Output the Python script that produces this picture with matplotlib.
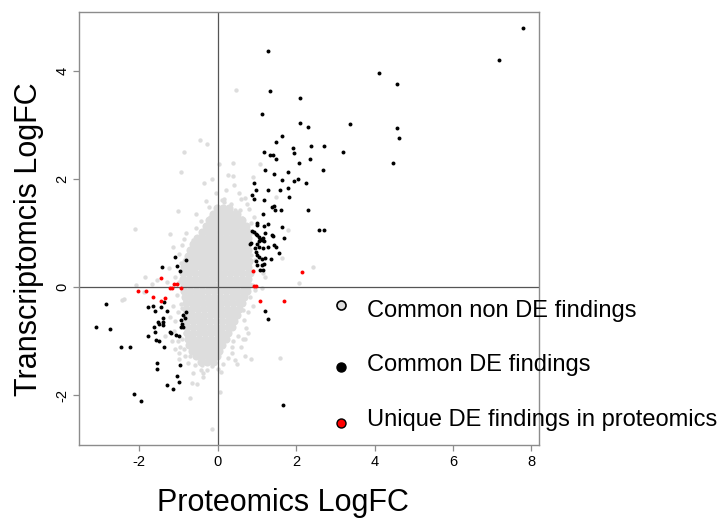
import matplotlib
matplotlib.use('Agg')
import matplotlib.pyplot as plt
from matplotlib.lines import Line2D

plt.rcParams['font.family'] = ['Liberation Sans', 'DejaVu Sans']
plt.rcParams['axes.unicode_minus'] = False

# ---- datos ----
# nube densa de no DE (filas: y, lista de x)
gray_core_rows = [
    (1.47, [-0.02, 0.13, 0.28]),
    (1.36, [-0.12, 0.04, 0.19, 0.34, 0.48]),
    (1.25, [-0.22, -0.07, 0.08, 0.23, 0.38, 0.53, 0.63]),
    (1.14, [-0.30, -0.15, 0.01, 0.16, 0.31, 0.46, 0.61, 0.72]),
    (1.03, [-0.41, -0.26, -0.11, 0.05, 0.20, 0.35, 0.50, 0.65, 0.76]),
    (0.92, [-0.52, -0.37, -0.22, -0.07, 0.08, 0.23, 0.38, 0.53, 0.68, 0.77]),
    (0.81, [-0.62, -0.47, -0.32, -0.17, -0.02, 0.13, 0.28, 0.43, 0.58, 0.73]),
    (0.70, [-0.70, -0.55, -0.40, -0.25, -0.10, 0.05, 0.20, 0.35, 0.50, 0.65, 0.78]),
    (0.59, [-0.76, -0.62, -0.47, -0.32, -0.17, -0.02, 0.13, 0.28, 0.43, 0.58, 0.73]),
    (0.48, [-0.81, -0.66, -0.51, -0.36, -0.21, -0.06, 0.09, 0.24, 0.39, 0.54, 0.69, 0.80]),
    (0.37, [-0.85, -0.72, -0.57, -0.42, -0.27, -0.12, 0.03, 0.18, 0.33, 0.48, 0.63, 0.78]),
    (0.26, [-0.88, -0.74, -0.59, -0.44, -0.29, -0.14, 0.01, 0.16, 0.31, 0.46, 0.61, 0.76, 0.83]),
    (0.15, [-0.88, -0.73, -0.58, -0.43, -0.28, -0.13, 0.02, 0.17, 0.32, 0.47, 0.62, 0.77]),
    (0.04, [-0.86, -0.71, -0.56, -0.41, -0.26, -0.11, 0.04, 0.19, 0.34, 0.49, 0.64, 0.78]),
    (-0.07, [-0.85, -0.70, -0.55, -0.40, -0.25, -0.10, 0.05, 0.20, 0.35, 0.50, 0.65, 0.75]),
    (-0.18, [-0.84, -0.69, -0.54, -0.39, -0.24, -0.09, 0.06, 0.21, 0.36, 0.51, 0.66]),
    (-0.29, [-0.82, -0.67, -0.52, -0.37, -0.22, -0.07, 0.08, 0.23, 0.38, 0.53, 0.63]),
    (-0.40, [-0.80, -0.66, -0.51, -0.36, -0.21, -0.06, 0.09, 0.24, 0.39, 0.54]),
    (-0.51, [-0.80, -0.65, -0.50, -0.35, -0.20, -0.05, 0.10, 0.25, 0.40, 0.50]),
    (-0.62, [-0.79, -0.64, -0.49, -0.34, -0.19, -0.04, 0.11, 0.26, 0.41]),
    (-0.73, [-0.79, -0.64, -0.49, -0.34, -0.19, -0.04, 0.11, 0.26, 0.37]),
    (-0.84, [-0.78, -0.63, -0.48, -0.33, -0.18, -0.03, 0.12, 0.27]),
    (-0.95, [-0.77, -0.62, -0.47, -0.32, -0.17, -0.02, 0.13, 0.20]),
    (-1.06, [-0.73, -0.58, -0.43, -0.28, -0.13, 0.02, 0.12]),
    (-1.17, [-0.66, -0.51, -0.36, -0.21, -0.06, 0.04]),
    (-1.28, [-0.56, -0.41, -0.26, -0.11, -0.03]),
    (-1.39, [-0.42, -0.27, -0.12]),
]

# no DE dispersos
gray_sparse = [
    (0.46, 3.65), (-0.45, 2.73), (-0.27, 2.65), (-0.87, 2.51), (-0.94, 2.13),
    (-0.34, 1.93), (0.02, 2.28), (0.25, 2.09), (0.38, 2.06), (0.42, 1.89),
    (1.08, 2.28), (0.90, 2.05), (1.48, 1.67), (0.58, 1.63), (0.17, 1.63),
    (-1.02, 1.41), (-2.10, 1.08), (-1.22, 0.99), (0.16, 1.59), (0.31, 1.41),
    (0.44, 1.44), (0.57, 1.43), (-0.20, 1.30), (-0.07, 1.12), (-0.45, 0.93),
    (-0.60, 0.81), (-0.73, 0.60), (-1.85, 0.20), (-1.56, 0.14), (-1.68, 0.06),
    (-2.08, 0.04), (-2.44, -0.24), (-2.38, -0.21), (-1.88, -0.08), (-0.92, -0.39),
    (-1.00, -1.22), (-0.71, -1.28), (-0.58, -1.44), (-0.43, -1.53), (-0.28, -1.53),
    (-0.15, -1.46), (-0.65, -1.78), (-0.52, -1.79), (-0.71, -2.04), (2.06, 0.09),
    (1.12, -0.02), (0.64, -0.41), (0.78, -0.85), (0.65, -0.96), (0.70, -0.96),
    (0.36, -1.10), (0.70, -1.27), (0.84, -1.33), (1.59, -1.30), (0.50, -1.42),
    (0.13, -1.42), (0.08, -1.56), (-0.15, -1.35), (-0.07, -1.41), (-0.41, -1.44),
    (-0.37, -1.59), (0.06, -1.94), (-0.14, -2.62), (-0.84, -1.28), (2.44, 0.38),
    (1.78, 1.07), (1.63, 0.54), (1.16, 0.26), (1.21, 0.20), (0.74, -0.11),
    (0.82, -0.17), (-0.62, 0.88), (-0.62, -1.59), (-0.37, -1.66), (-0.83, -0.85),
    (-0.96, -1.10), (-0.95, 0.45), (-0.98, 0.10), (-0.95, -0.30), (-0.90, -0.95),
    (0.86, 0.60), (0.90, 0.30), (0.84, 1.00), (-0.55, 1.10), (-0.42, 1.22),
    (0.10, 1.62), (0.33, 1.55), (-0.22, 1.48), (0.62, 1.28), (0.66, -0.60),
    (0.52, -0.90), (0.35, -1.22), (0.25, -1.30), (-0.85, -1.15), (-0.75, -1.40),
    (0.00, -1.52), (-1.10, 0.20), (-1.05, -0.15), (-1.15, 0.75), (-0.80, 1.00),
    (0.88, 0.05), (0.95, 0.50), (0.92, 1.30), (-0.05, 1.75), (0.55, 1.75),
    (0.75, 1.55), (-1.02, -0.45), (-1.08, -0.62), (-1.12, -0.80), (-1.02, -1.00),
    (-1.10, -1.15), (-0.98, -1.32), (-1.15, -0.35), (-1.22, -0.55), (-1.25, 0.35),
    (-1.30, 0.10), (-1.00, 0.62), (-0.92, 0.78), (-0.85, 0.90), (-1.18, -1.00),
    (-1.35, -0.90), (0.85, 1.20), (0.80, 1.45), (0.70, 1.65), (0.95, -0.05),
    (0.90, -0.35), (0.78, -0.45), (0.72, -0.75), (0.60, -1.10), (0.45, -1.35),
    (0.40, -1.00), (-0.30, 1.60), (0.20, 1.80), (-0.55, 1.35), (0.40, 2.30),
    (-0.15, 2.00),
]

# DE comunes
black_pts = [
    (7.78, 4.81), (7.18, 4.22), (4.10, 3.97), (4.57, 3.76), (1.29, 4.38),
    (1.33, 3.63), (2.09, 3.51), (1.13, 3.21), (2.09, 3.05), (2.30, 2.97),
    (3.38, 3.02), (4.58, 2.96), (4.63, 2.76), (4.46, 2.31), (1.65, 2.80),
    (1.49, 2.70), (1.93, 2.59), (1.95, 2.49), (2.39, 2.62), (2.72, 2.62),
    (3.20, 2.50), (1.17, 2.51), (1.32, 2.46), (1.42, 2.45), (1.49, 2.38),
    (2.08, 2.31), (2.34, 2.37), (1.21, 2.18), (1.43, 2.10), (1.79, 2.14),
    (2.68, 2.18), (1.65, 1.99), (1.94, 1.97), (2.05, 2.01), (2.24, 1.94),
    (1.27, 1.81), (1.58, 1.80), (1.79, 1.84), (1.82, 1.67), (1.18, 1.61),
    (1.39, 1.49), (1.43, 1.51), (1.46, 1.44), (1.60, 1.43), (2.31, 1.43),
    (1.15, 1.36), (1.27, 1.17), (1.18, 1.13), (1.63, 1.12), (2.59, 1.07),
    (2.72, 1.06), (1.21, 1.00), (1.38, 0.97), (1.42, 0.96), (1.70, 0.91),
    (1.16, 0.92), (1.12, 0.88), (1.18, 0.86), (1.44, 0.78), (1.49, 0.75),
    (1.28, 0.75), (1.16, 0.72), (1.57, 0.63), (1.21, 0.55), (1.36, 0.53),
    (1.13, 0.52), (1.18, 0.44), (1.12, 0.41), (1.16, 0.33),
    (0.93, 1.94), (0.88, 1.72), (0.93, 1.64), (0.98, 1.81), (0.99, 1.19),
    (1.01, 1.15), (0.88, 1.04), (0.93, 1.02), (0.97, 0.99), (1.01, 0.97),
    (1.06, 0.94), (1.08, 0.89), (1.04, 0.86), (0.84, 0.83), (0.94, 0.73),
    (0.99, 0.80), (1.05, 0.75), (0.98, 0.65), (1.01, 0.60), (1.06, 0.56),
    (0.98, 0.49), (1.00, 0.41), (1.07, 0.32), (0.81, 0.81),
    (1.21, -0.44), (1.28, -0.59), (1.66, -2.18),
    (-1.08, 0.57), (-0.81, 0.51), (-1.43, 0.38), (-1.04, 0.39), (-0.97, 0.31),
    (-2.84, -0.31), (-1.36, -0.27), (-1.79, -0.36), (-1.66, -0.35), (-1.59, -0.44),
    (-1.45, -0.37), (-1.29, -0.43), (-0.82, -0.46), (-0.89, -0.52), (-3.10, -0.74),
    (-2.76, -0.77), (-1.39, -0.56), (-1.40, -0.64), (-1.39, -0.70), (-1.53, -0.65),
    (-1.50, -0.68), (-1.62, -0.73), (-0.94, -0.61), (-0.91, -0.67), (-0.94, -0.73),
    (-1.59, -0.83), (-1.22, -0.82), (-1.20, -0.85), (-1.07, -0.88), (-0.98, -0.91),
    (-1.79, -0.90), (-1.57, -0.98), (-1.49, -0.99), (-1.37, -1.11), (-2.46, -1.11),
    (-2.23, -1.11), (-1.56, -1.40), (-1.55, -1.51), (-0.96, -1.43), (-1.05, -1.64),
    (-0.99, -1.75), (-1.30, -1.80), (-1.14, -1.88), (-2.14, -1.98), (-1.96, -2.11),
    (-0.84, -0.56), (-0.89, -0.74),
]

# DE unicos en proteomica
red_pts = [
    (-1.45, 0.18), (-1.11, 0.06), (-1.05, 0.06), (-1.22, -0.01), (-1.16, -0.01),
    (-0.94, -0.02), (-2.03, -0.06), (-1.82, -0.07), (-1.65, -0.18), (-1.35, -0.20),
    (-1.44, -0.25), (0.90, 0.31), (2.15, 0.29), (0.93, 0.03), (0.98, 0.03),
    (1.08, -0.25), (1.70, -0.25),
]

legend_labels = ['Common non DE findings', 'Common DE findings',
                 'Unique DE findings in proteomics']
x_ticks = [-2, 0, 2, 4, 6, 8]
y_ticks = [-2, 0, 2, 4]

core_x = [x for y, xs in gray_core_rows for x in xs]
core_y = [y for y, xs in gray_core_rows for x in xs]

GRIS = '#DDDDDD'
MARCO = '#8C8C8C'

fig = plt.figure(figsize=(7.2, 5.18), dpi=100)
ax = fig.add_axes([0.1097, 0.1409, 0.6393, 0.8359])

ax.scatter(core_x, core_y, s=34, color=GRIS, linewidths=0, zorder=1)
ax.scatter([p[0] for p in gray_sparse], [p[1] for p in gray_sparse],
           s=10, color=GRIS, linewidths=0, zorder=1)

ax.axhline(0, color='#555555', lw=0.9, zorder=2)
ax.axvline(0, color='#555555', lw=0.9, zorder=2)

ax.scatter([p[0] for p in black_pts], [p[1] for p in black_pts],
           s=8, color='black', linewidths=0, zorder=3)
ax.scatter([p[0] for p in red_pts], [p[1] for p in red_pts],
           s=8, color='#FF0000', linewidths=0, zorder=4)

ax.set_xlim(-3.54, 8.20)
ax.set_ylim(-2.92, 5.10)
ax.set_xticks(x_ticks)
ax.set_yticks(y_ticks)
for s in ax.spines.values():
    s.set_color(MARCO)
    s.set_linewidth(1.0)
ax.tick_params(length=4.5, width=0.9, color=MARCO, labelsize=10.5, pad=2.5)
plt.setp(ax.get_yticklabels(), rotation=90, va='center')

fig.text(283 / 720, 7 / 518, 'Proteomics LogFC', fontsize=22,
         ha='center', va='baseline')
fig.text(29 / 720, 1 - 239 / 518, 'Transcriptomcis LogFC', fontsize=22,
         rotation=90, ha='center', va='center')

# leyenda dibujada a mano (fuera del recuadro, como en R)
mark_y = [305, 367, 423]
text_base = [316.5, 370.5, 426]
estilos = [dict(mfc=GRIS, mec='black', mew=1.2),
           dict(mfc='black', mec='black', mew=1.0),
           dict(mfc='#FF0000', mec='black', mew=1.0)]
for my, ty, lab, st in zip(mark_y, text_base, legend_labels, estilos):
    fig.add_artist(Line2D([340.7 / 720], [1 - my / 518], marker='o',
                          markersize=6.5, linestyle='none',
                          transform=fig.transFigure, **st))
    fig.text(366.7 / 720, 1 - ty / 518, lab, fontsize=17,
             ha='left', va='baseline')

fig.savefig('out.png', dpi=100, facecolor='white')
